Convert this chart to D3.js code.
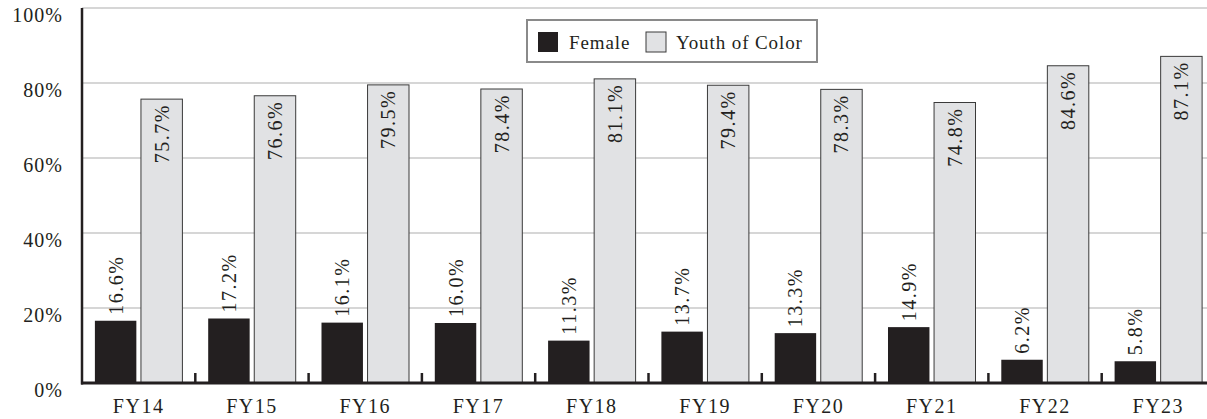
<!DOCTYPE html>
<html>
<head>
<meta charset="utf-8">
<script src="https://cdn.jsdelivr.net/npm/d3@7"></script>
<style>
  html, body { margin: 0; padding: 0; background: #fff; }
  svg { display: block; }
  text { font-family: "Liberation Serif", "DejaVu Serif", serif; fill: #231f20; }
</style>
</head>
<body>
<svg id="chart" width="1207" height="419"></svg>
<script>
const categories = ["FY14","FY15","FY16","FY17","FY18","FY19","FY20","FY21","FY22","FY23"];
const seriesNames = ["Female", "Youth of Color"];
const femaleValues = [16.6, 17.2, 16.1, 16.0, 11.3, 13.7, 13.3, 14.9, 6.2, 5.8];
const youthValues  = [75.7, 76.6, 79.5, 78.4, 81.1, 79.4, 78.3, 74.8, 84.6, 87.1];
const yTicks = [0, 20, 40, 60, 80, 100];

(function () {
const svg = d3.select("#chart");
const W = 1207;
const mLeft = 82, mRight = 1215, mTop = 8, mBottom = 383;

const x0 = d3.scaleBand().domain(categories).range([mLeft, mRight]).padding(0);
const x1 = d3.scaleBand().domain(seriesNames).range([0, x0.bandwidth()])
  .paddingInner(0.1).paddingOuter(0.28);
const y = d3.scaleLinear().domain([0, 100]).range([mBottom, mTop]);

const colors = { "Female": "#231f20", "Youth of Color": "#e1e2e4" };

// gridlines
svg.append("g").selectAll("line").data(yTicks.filter(d => d > 0)).join("line")
  .attr("x1", mLeft).attr("x2", W)
  .attr("y1", d => y(d)).attr("y2", d => y(d))
  .attr("stroke", "#c8c8c8").attr("stroke-width", 1.6);

// y labels
svg.append("g").selectAll("text").data(yTicks).join("text")
  .attr("x", 63).attr("y", d => y(d) + 14)
  .attr("text-anchor", "end")
  .style("font-size", "20px").style("letter-spacing", "1px")
  .text(d => d + "%");

const rows = categories.map((c, i) => ({ cat: c, vals: [
  { s: "Female", v: femaleValues[i] },
  { s: "Youth of Color", v: youthValues[i] }
]}));

const groups = svg.append("g").selectAll("g").data(rows).join("g")
  .attr("transform", d => `translate(${x0(d.cat)},0)`);

groups.selectAll("rect").data(d => d.vals).join("rect")
  .attr("x", d => x1(d.s))
  .attr("width", x1.bandwidth())
  .attr("y", d => y(d.v))
  .attr("height", d => y(0) - y(d.v))
  .attr("fill", d => colors[d.s])
  .attr("stroke", d => d.s === "Female" ? "none" : "#3a3a3a")
  .attr("stroke-width", 1);

groups.selectAll("text").data(d => d.vals).join("text")
  .attr("transform", d => {
    const cx = x1(d.s) + x1.bandwidth() / 2;
    const yy = d.s === "Female" ? y(d.v) - 6 : y(d.v) + 5;
    return `translate(${cx},${yy}) rotate(-90)`;
  })
  .attr("text-anchor", d => d.s === "Female" ? "start" : "end")
  .attr("dy", "0.35em")
  .style("font-size", "20px").style("letter-spacing", "1.5px")
  .text(d => d.v.toFixed(1) + "%");

// left axis line
svg.append("line").attr("x1", mLeft).attr("x2", mLeft).attr("y1", mTop).attr("y2", mBottom + 1.5)
  .attr("stroke", "#231f20").attr("stroke-width", 2.5);
// baseline
svg.append("line").attr("x1", mLeft - 1).attr("x2", W).attr("y1", mBottom).attr("y2", mBottom)
  .attr("stroke", "#231f20").attr("stroke-width", 3);

// category boundary ticks
svg.append("g").selectAll("line").data(categories.slice(1)).join("line")
  .attr("x1", d => x0(d)).attr("x2", d => x0(d))
  .attr("y1", mBottom - 10).attr("y2", mBottom)
  .attr("stroke", "#231f20").attr("stroke-width", 2.5);

// x labels
svg.append("g").selectAll("text").data(categories).join("text")
  .attr("x", d => x0(d) + x0.bandwidth() / 2)
  .attr("y", 413)
  .attr("text-anchor", "middle")
  .style("font-size", "20px").style("letter-spacing", "1.5px")
  .text(d => d);

// legend
const lg = svg.append("g");
lg.append("rect").attr("x", 527).attr("y", 20).attr("width", 290).attr("height", 42)
  .attr("fill", "#fff").attr("stroke", "#8a8a8a").attr("stroke-width", 2);
const legendItems = [
  { s: "Female", x: 538, tx: 569 },
  { s: "Youth of Color", x: 646, tx: 676 }
];
lg.selectAll("rect.sw").data(legendItems).join("rect").attr("class", "sw")
  .attr("x", d => d.x).attr("y", 32).attr("width", 20).attr("height", 20)
  .attr("fill", d => colors[d.s])
  .attr("stroke", d => d.s === "Female" ? "none" : "#3a3a3a").attr("stroke-width", 1);
lg.selectAll("text").data(legendItems).join("text")
  .attr("x", d => d.tx).attr("y", 49)
  .style("font-size", "19px").style("letter-spacing", "0.9px")
  .text(d => d.s);
})();
</script>
</body>
</html>
